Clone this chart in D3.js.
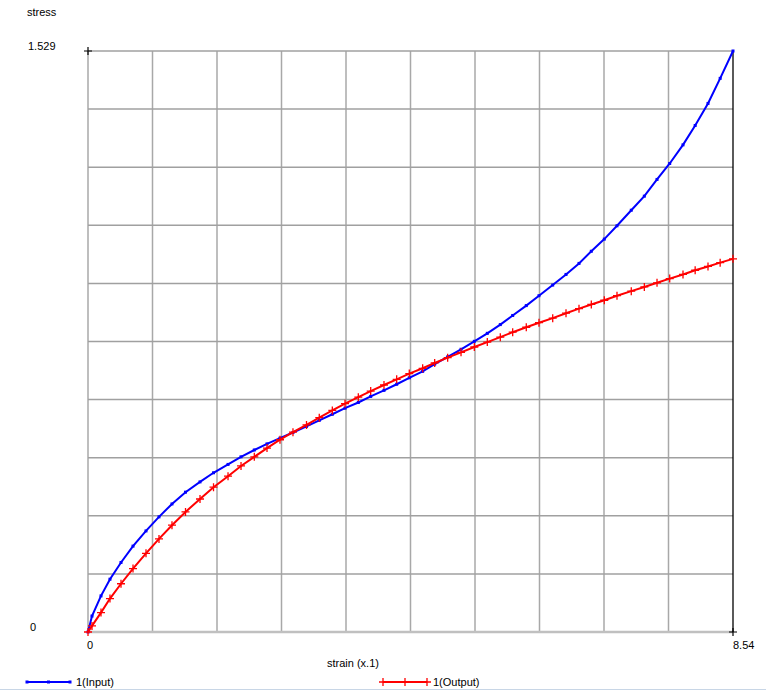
<!DOCTYPE html>
<html>
<head>
<meta charset="utf-8">
<title>stress / strain</title>
<script src="https://d3js.org/d3.v7.min.js"></script>
<style>
  body { margin: 0; background: #fff; }
  svg text { font-family: "Liberation Sans", Arial, sans-serif; font-size: 11px; fill: #000; }
</style>
</head>
<body>
<svg id="chart" width="766" height="690"></svg>
<script>
// strain values (x.1), shared by both series
const strain = [0, 0.053, 0.172, 0.291, 0.437, 0.596, 0.768, 0.940, 1.112, 1.291,
  1.483, 1.662, 1.854, 2.026, 2.202, 2.370, 2.542, 2.714, 2.893, 3.062,
  3.235, 3.403, 3.579, 3.743, 3.919, 4.087, 4.254, 4.431, 4.590, 4.762,
  4.939, 5.115, 5.287, 5.459, 5.623, 5.803, 5.971, 6.153, 6.329, 6.501,
  6.664, 6.836, 7.004, 7.193, 7.366, 7.534, 7.702, 7.878, 8.039, 8.209,
  8.370, 8.540];

const inputStress = [0, 0.042, 0.095, 0.139, 0.183, 0.226, 0.266, 0.303, 0.337, 0.368,
  0.395, 0.419, 0.441, 0.461, 0.479, 0.495, 0.510, 0.525, 0.541, 0.557,
  0.573, 0.589, 0.604, 0.620, 0.636, 0.652, 0.669, 0.686, 0.705, 0.724,
  0.744, 0.765, 0.786, 0.809, 0.833, 0.859, 0.885, 0.913, 0.941, 0.970,
  1.002, 1.034, 1.069, 1.110, 1.147, 1.191, 1.233, 1.282, 1.333, 1.391,
  1.457, 1.529];

const outputStress = [0, 0.016, 0.051, 0.088, 0.127, 0.167, 0.207, 0.245, 0.281, 0.316,
  0.350, 0.381, 0.410, 0.437, 0.461, 0.484, 0.506, 0.526, 0.545, 0.564,
  0.583, 0.601, 0.618, 0.634, 0.650, 0.665, 0.680, 0.694, 0.708, 0.722,
  0.736, 0.750, 0.763, 0.776, 0.789, 0.802, 0.814, 0.826, 0.839, 0.851,
  0.862, 0.873, 0.885, 0.897, 0.908, 0.919, 0.930, 0.941, 0.952, 0.962,
  0.972, 0.982];

const xMax = 8.54, yMax = 1.529;
const xTickLabels = ["0", "8.54"];
const yTickLabels = ["0", "1.529"];
const seriesNames = ["1(Input)", "1(Output)"];

const svg = d3.select("#chart");
const x = d3.scaleLinear().domain([0, xMax]).range([88, 733]);
const y = d3.scaleLinear().domain([0, yMax]).range([632, 51]);

// grid, 10 x 10
const xs = d3.range(11).map(i => i * xMax / 10);
const ys = d3.range(11).map(i => i * yMax / 10);

svg.append("g").selectAll("line").data(xs.slice(0, 10)).join("line")
  .attr("x1", d => x(d)).attr("x2", d => x(d))
  .attr("y1", y(yMax)).attr("y2", y(0))
  .attr("stroke", "#a8a8a8").attr("stroke-width", 1.5);

svg.append("g").selectAll("line").data(ys.slice(1)).join("line")
  .attr("x1", x(0)).attr("x2", x(xMax))
  .attr("y1", d => y(d)).attr("y2", d => y(d))
  .attr("stroke", "#a0a0a0").attr("stroke-width", 1.5);

// bottom axis (light) and right edge (black)
svg.append("line")
  .attr("x1", x(0)).attr("x2", x(xMax)).attr("y1", y(0)).attr("y2", y(0))
  .attr("stroke", "#c0c0c0").attr("stroke-width", 2.5);
svg.append("line")
  .attr("x1", x(xMax)).attr("x2", x(xMax)).attr("y1", y(yMax)).attr("y2", y(0))
  .attr("stroke", "#000").attr("stroke-width", 1.3);

// corner crosses
[[0, yMax], [xMax, 0]].forEach(([cx, cy]) => {
  svg.append("path")
    .attr("d", `M${x(cx) - 4},${y(cy)}h8M${x(cx)},${y(cy) - 4}v8`)
    .attr("stroke", "#000").attr("stroke-width", 1.2);
});

// labels
svg.append("text").attr("x", 27).attr("y", 16).text("stress");
svg.append("text").attr("x", 28).attr("y", 50).text(yTickLabels[1]);
svg.append("text").attr("x", 30).attr("y", 631).text(yTickLabels[0]);
svg.append("text").attr("x", x(0) + 2).attr("y", 649).attr("text-anchor", "middle").text(xTickLabels[0]);
svg.append("text").attr("x", x(xMax)).attr("y", 649).text(xTickLabels[1]);
svg.append("text").attr("x", 327).attr("y", 667).text("strain (x.1)");

// series
const inPts = strain.map((s, i) => [s, inputStress[i]]);
const outPts = strain.map((s, i) => [s, outputStress[i]]);
const line = d3.line().x(d => x(d[0])).y(d => y(d[1]));

svg.append("path").datum(inPts).attr("d", line)
  .attr("fill", "none").attr("stroke", "#0000ff").attr("stroke-width", 2);
svg.append("g").selectAll("rect").data(inPts).join("rect")
  .attr("x", d => x(d[0]) - 1.5).attr("y", d => y(d[1]) - 1.5)
  .attr("width", 3).attr("height", 3).attr("fill", "#0000ff");

svg.append("path").datum(outPts).attr("d", line)
  .attr("fill", "none").attr("stroke", "#ff0000").attr("stroke-width", 2);
svg.append("g").selectAll("path").data(outPts).join("path")
  .attr("d", d => `M${x(d[0]) - 4},${y(d[1])}h8M${x(d[0])},${y(d[1]) - 4}v8`)
  .attr("stroke", "#ff0000").attr("stroke-width", 1.3);

// legend
const legY = 682;
const lg = svg.append("g");
lg.append("line").attr("x1", 27).attr("x2", 70).attr("y1", legY).attr("y2", legY)
  .attr("stroke", "#0000ff").attr("stroke-width", 2);
lg.selectAll("rect").data([27, 48.5, 70]).join("rect")
  .attr("x", d => d - 1.5).attr("y", legY - 1.5).attr("width", 3).attr("height", 3)
  .attr("fill", "#0000ff");
lg.append("text").attr("x", 76).attr("y", legY + 4).text(seriesNames[0]);

lg.append("line").attr("x1", 383).attr("x2", 427).attr("y1", legY).attr("y2", legY)
  .attr("stroke", "#ff0000").attr("stroke-width", 2);
lg.selectAll("path.m").data([383, 405, 427]).join("path").attr("class", "m")
  .attr("d", d => `M${d - 4},${legY}h8M${d},${legY - 4}v8`)
  .attr("stroke", "#ff0000").attr("stroke-width", 1.3);
lg.append("text").attr("x", 433).attr("y", legY + 4).text(seriesNames[1]);

// bottom frame edge
svg.append("line").attr("x1", 0).attr("x2", 766).attr("y1", 689.5).attr("y2", 689.5)
  .attr("stroke", "#c8d6e6").attr("stroke-width", 1);
</script>
</body>
</html>
